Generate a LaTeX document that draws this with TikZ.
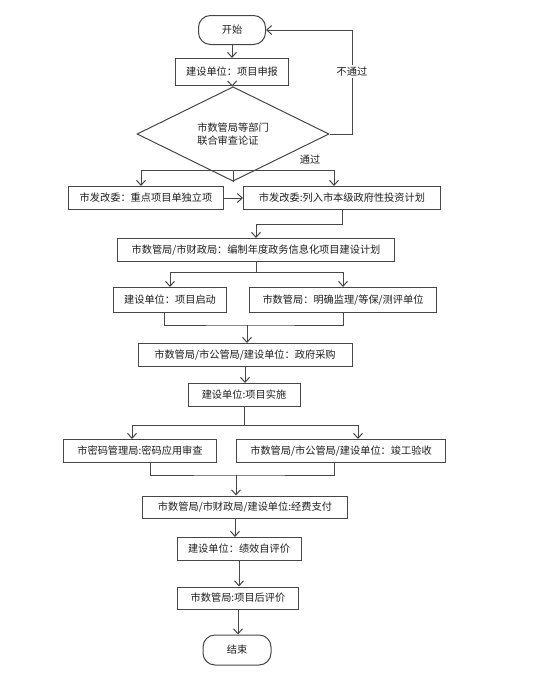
\documentclass[tikz,border=0pt]{standalone}
\usepackage{fontspec}
\setmainfont{Noto Sans CJK SC}
\usetikzlibrary{arrows.meta,shapes.geometric,calc}
\definecolor{linegray}{RGB}{70,70,70}
\definecolor{textgray}{RGB}{30,30,30}

\begin{document}
\begin{tikzpicture}[x=1pt, y=-1pt,
    every node/.style={font=\fontsize{10.2}{13.5}\selectfont, text=textgray},
    box/.style={draw=linegray, line width=1pt, inner sep=0pt, minimum height=23pt},
    term/.style={draw=linegray, line width=1pt, rounded corners=12pt, inner sep=0pt,
      minimum width=67pt, minimum height=29pt},
    dec/.style={draw=linegray, line width=1pt, diamond, inner sep=0pt, align=left,
      minimum width=192pt, minimum height=71pt},
    flow/.style={draw=linegray, line width=1pt, -{Straight Barb[length=5pt,width=9pt]}},
    link/.style={draw=linegray, line width=1pt}]
  \useasboundingbox (0,0) rectangle (541,683);

  % top: application and review
  \node[term] (start) at (232,30) {开始};
  \node[box, minimum width=113pt, minimum height=27pt] (apply) at (232,72) {建设单位：项目申报};
  \node[dec] (review) at (233,134) {市数管局等部门\\联合审查论证};

  \draw[flow] (start) -- (apply);
  \draw[flow] (apply) -- (review);
  \coordinate (back) at (352,134);
  \draw[flow] (review.east) -- (back) |- (start.east)
    node[pos=0.3, fill=white, inner sep=2pt] {不通过};

  % approval
  \node[box, minimum width=155pt] (key) at (146,198) {市发改委：重点项目单独立项};
  \node[box, minimum width=197pt] (plan) at (342,198) {市发改委:列入市本级政府性投资计划};
  \coordinate (pass) at (233,170);
  \draw[link] (review.south) -- (pass);
  \draw[flow] (pass) -| ([xshift=-5pt]key.north);
  \draw[flow] (pass) -| ([xshift=-8pt]plan.north);
  \node (passtxt) at (310,160) {通过};
  \draw[flow] (key) -- (plan);

  % yearly plan
  \node[box, minimum width=277pt] (annual) at (256,250) {市数管局/市财政局：编制年度政务信息化项目建设计划};
  \draw[flow] (plan.south) -- ++(0,14) -| (annual.north);

  \node[box, minimum width=113pt, minimum height=25pt] (launch) at (170,300) {建设单位：项目启动};
  \node[box, minimum width=187pt, minimum height=25pt] (superv) at (343,300) {市数管局：明确监理/等保/测评单位};
  \draw[link] (annual.south) -- ++(0,10) coordinate (split1);
  \draw[flow] (split1) -| (launch.north);
  \draw[flow] (split1) -| (superv.north);

  % purchase and build
  \node[box, minimum width=214pt] (purchase) at (245,355) {市数管局/市公管局/建设单位：政府采购};
  \coordinate (join1) at (247,325);
  \draw[link] ([xshift=-6pt]launch.south) |- (join1) -| (superv.south);
  \draw[flow] (join1) -- (join1 |- purchase.north);

  \node[box, minimum width=112pt] (impl) at (244,395) {建设单位:项目实施};
  \draw[flow] (purchase) -- (purchase.south |- impl.north);

  \node[box, minimum width=153pt] (crypto) at (140,451) {市密码管理局:密码应用审查};
  \node[box, minimum width=209pt] (accept) at (341,451) {市数管局/市公管局/建设单位：竣工验收};
  \draw[link] (impl.south) -- ++(0,18) coordinate (split2);
  \draw[flow] (split2) -| ([xshift=-8pt]crypto.north);
  \draw[flow] (split2) -| ([xshift=17pt]accept.north);

  % payment and evaluation
  \node[box, minimum width=205pt, minimum height=22pt] (pay) at (245,507) {市数管局/市财政局/建设单位:经费支付};
  \coordinate (join2) at (236,475);
  \draw[link] ([xshift=10pt]crypto.south) |- (join2) -| ([xshift=-7pt]accept.south);
  \draw[flow] (join2) -- (join2 |- pay.north);

  \node[box, minimum width=124pt] (selfeval) at (239,549) {建设单位：绩效自评价};
  \node[box, minimum width=121pt, minimum height=22pt] (posteval) at (238,598) {市数管局:项目后评价};
  \node[term, minimum width=68pt, minimum height=30pt] (end) at (237,650) {结束};

  \draw[flow] ([xshift=-10pt]pay.south) -- ([xshift=-10pt]pay.south |- selfeval.north);
  \draw[flow] (selfeval) -- (selfeval.south |- posteval.north);
  \draw[flow] (posteval) -- (posteval.south |- end.north);
\end{tikzpicture}
\end{document}
